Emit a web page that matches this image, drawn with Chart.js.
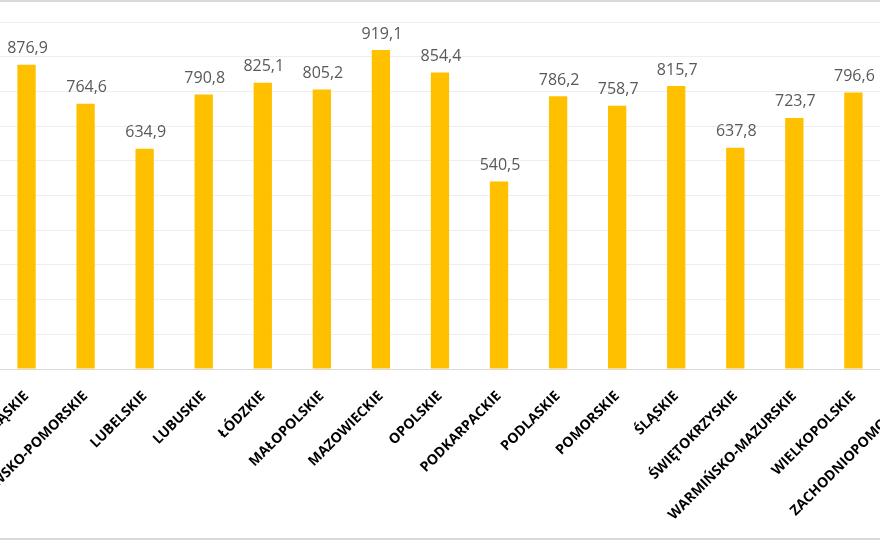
<!DOCTYPE html>
<html>
<head>
<meta charset="utf-8">
<script src="https://cdn.jsdelivr.net/npm/chart.js@4/dist/chart.umd.min.js"></script>
<style>
  html, body { margin: 0; padding: 0; background: #fff; }
  body { width: 880px; height: 540px; overflow: hidden; position: relative; }
  .frame-top { position: absolute; left: 0; top: 0; width: 880px; height: 2px; background: #d9d9d9; }
  .frame-bottom { position: absolute; left: 0; top: 538px; width: 880px; height: 2px; background: #d9d9d9; }
  #wrap { position: absolute; left: -3px; top: 0; width: 945px; height: 536px; }
</style>
</head>
<body>
<div class="frame-top"></div>
<div id="wrap"><canvas id="chart"></canvas></div>
<div class="frame-bottom"></div>
<script>
// Voivodeships and values
const regions = [
  'DOLNOŚLĄSKIE', 'KUJAWSKO-POMORSKIE', 'LUBELSKIE', 'LUBUSKIE', 'ŁÓDZKIE',
  'MAŁOPOLSKIE', 'MAZOWIECKIE', 'OPOLSKIE', 'PODKARPACKIE', 'PODLASKIE',
  'POMORSKIE', 'ŚLĄSKIE', 'ŚWIĘTOKRZYSKIE', 'WARMIŃSKO-MAZURSKIE',
  'WIELKOPOLSKIE', 'ZACHODNIOPOMORSKIE'
];
const values = [
  876.9, 764.6, 634.9, 790.8, 825.1,
  805.2, 919.1, 854.4, 540.5, 786.2,
  758.7, 815.7, 637.8, 723.7,
  796.6, 781.0
];
const yTicks = [0, 100, 200, 300, 400, 500, 600, 700, 800, 900, 1000];

// Value labels above the bars, Polish decimal comma
const valueLabels = {
  id: 'valueLabels',
  afterDatasetsDraw(chart) {
    const ctx = chart.ctx;
    const meta = chart.getDatasetMeta(0);
    ctx.save();
    ctx.font = '16px "Open Sans"';
    ctx.fillStyle = '#595959';
    ctx.textAlign = 'center';
    ctx.textBaseline = 'bottom';
    meta.data.forEach((bar, i) => {
      const txt = values[i].toFixed(1).replace('.', ',');
      ctx.fillText(txt, bar.x + 1, bar.y - 8);
    });
    ctx.restore();
  }
};

new Chart(document.getElementById('chart'), {
  type: 'bar',
  data: {
    labels: regions,
    datasets: [{
      data: values,
      backgroundColor: '#FFC000',
      barPercentage: 0.31,
      categoryPercentage: 1
    }]
  },
  options: {
    responsive: true,
    maintainAspectRatio: false,
    animation: false,
    layout: { padding: { top: 22, left: 0, right: 0, bottom: 0 } },
    plugins: {
      legend: { display: false },
      tooltip: { enabled: false }
    },
    scales: {
      x: {
        grid: { display: false },
        border: { display: true, color: '#d9d9d9', width: 1 },
        ticks: {
          autoSkip: false,
          minRotation: 45,
          maxRotation: 45,
          padding: 11,
          color: '#000',
          font: { family: '"Open Sans"', size: 14, weight: 'bold' }
        },
        afterFit(scale) {
          scale.paddingLeft = 0;
          scale.paddingRight = 0;
          scale.height = 167;
        }
      },
      y: {
        min: 0,
        max: 1000,
        afterBuildTicks(scale) {
          scale.ticks = yTicks.map(v => ({ value: v }));
        },
        ticks: { display: false },
        grid: { color: '#eeeeee', drawTicks: false },
        border: { display: false },
        afterFit(scale) {
          scale.width = 0;
        }
      }
    }
  },
  plugins: [valueLabels]
});
</script>
</body>
</html>
